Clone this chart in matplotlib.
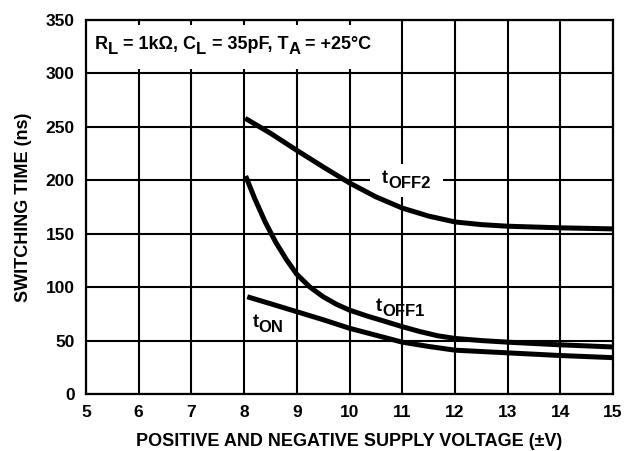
import matplotlib
matplotlib.use("Agg")
import matplotlib.pyplot as plt
from matplotlib.patches import Rectangle

plt.rcParams["font.family"] = ["Liberation Sans", "DejaVu Sans"]
plt.rcParams["font.weight"] = "bold"

# -- Data --------------------------------------------------------------------
toff2_v = [8.02, 8.5, 9.0, 9.5, 10.0, 10.5, 11.0, 11.5, 12.0, 12.5, 13.0, 14.0, 15.0]
toff2_t = [258, 244, 228, 212.5, 197.5, 184.5, 174, 166.5, 161, 158.5, 157, 155.5, 154.5]

toff1_v = [8.03, 8.2, 8.4, 8.6, 8.8, 9.0, 9.25, 9.5, 9.75, 10.0, 10.33, 10.67,
           11.0, 11.33, 11.67, 12.0, 12.5, 13.0, 14.0, 15.0]
toff1_t = [204, 183, 161, 142, 126, 112, 100, 91, 84, 78.5, 73, 68,
           63, 58.5, 54.5, 52, 50, 48.5, 46, 44]

ton_v = [8.06, 8.5, 9.0, 9.5, 10.0, 10.5, 11.0, 11.5, 12.0, 13.0, 14.0, 15.0]
ton_t = [91, 84.5, 77, 69.5, 61.5, 55, 48.5, 44.5, 41, 38.5, 36, 34]

x_ticks = list(range(5, 16))
y_ticks = list(range(0, 351, 50))

fig = plt.figure(figsize=(6.34, 4.51), dpi=100)
ax = fig.add_axes([0.1356, 0.1264, 0.8314, 0.8293])

ax.set_xlim(5, 15)
ax.set_ylim(0, 350)
ax.set_xticks(x_ticks)
ax.set_yticks(y_ticks)
ax.tick_params(axis="y", length=0, labelsize=12.5, pad=8)
ax.tick_params(axis="x", length=0, labelsize=12.5, pad=8)
for lbl in ax.get_xticklabels() + ax.get_yticklabels():
    lbl.set_fontweight("bold")
ax.grid(True, color="black", lw=1.5, zorder=1)
ax.set_axisbelow(True)
for s in ax.spines.values():
    s.set_linewidth(1.6)
    s.set_zorder(6)

for v, t in [(toff2_v, toff2_t), (toff1_v, toff1_t), (ton_v, ton_t)]:
    ax.plot(v, t, color="black", lw=3.6, solid_capstyle="butt",
            solid_joinstyle="round", zorder=3)

# white patches that break the grid behind the note and the tOFF2 label
ax.add_patch(Rectangle((5, 304), 5.75, 41, fc="white", ec="none", zorder=2))
ax.add_patch(Rectangle((10.39, 184.5), 1.38, 30.5, fc="white", ec="none", zorder=2))


def rich_text(x, y, pieces, fs=13, sub_fs=12, sub_dy=-3.5):
    """Draw text pieces in a row; pieces flagged True are subscripts."""
    prev = None
    for s, sub in pieces:
        size = sub_fs if sub else fs
        dy = sub_dy if sub else 0
        if prev is None:
            prev = ax.annotate(s, xy=(x, y), xycoords="data", xytext=(0, dy),
                               textcoords="offset points", ha="left",
                               va="baseline", fontsize=size,
                               fontweight="bold", zorder=5)
        else:
            prev = ax.annotate(s, xy=(1, y), xycoords=(prev, "data"),
                               xytext=(0, dy), textcoords="offset points",
                               ha="left", va="baseline", fontsize=size,
                               fontweight="bold", zorder=5)


# condition note
rich_text(5.17, 322.5, [("R", False), ("L", True), (" = 1kΩ, C", False),
                        ("L", True), (" = 35pF, T", False), ("A", True),
                        (" = +25°C", False)], fs=13, sub_fs=12, sub_dy=-3)

# curve labels
rich_text(10.62, 197.5, [("t", False), ("OFF2", True)], fs=13, sub_fs=12, sub_dy=-4)
rich_text(10.50, 77.8, [("t", False), ("OFF1", True)], fs=13, sub_fs=12, sub_dy=-3.5)
rich_text(8.16, 62.5, [("t", False), ("ON", True)], fs=13, sub_fs=12, sub_dy=-3.5)

ax.set_xlabel("POSITIVE AND NEGATIVE SUPPLY VOLTAGE (±V)", fontsize=13,
              fontweight="bold", labelpad=9)
ax.set_ylabel("SWITCHING TIME (ns)", fontsize=13, fontweight="bold", labelpad=10)

fig.savefig("out.png", dpi=100, facecolor="white")
plt.close(fig)
